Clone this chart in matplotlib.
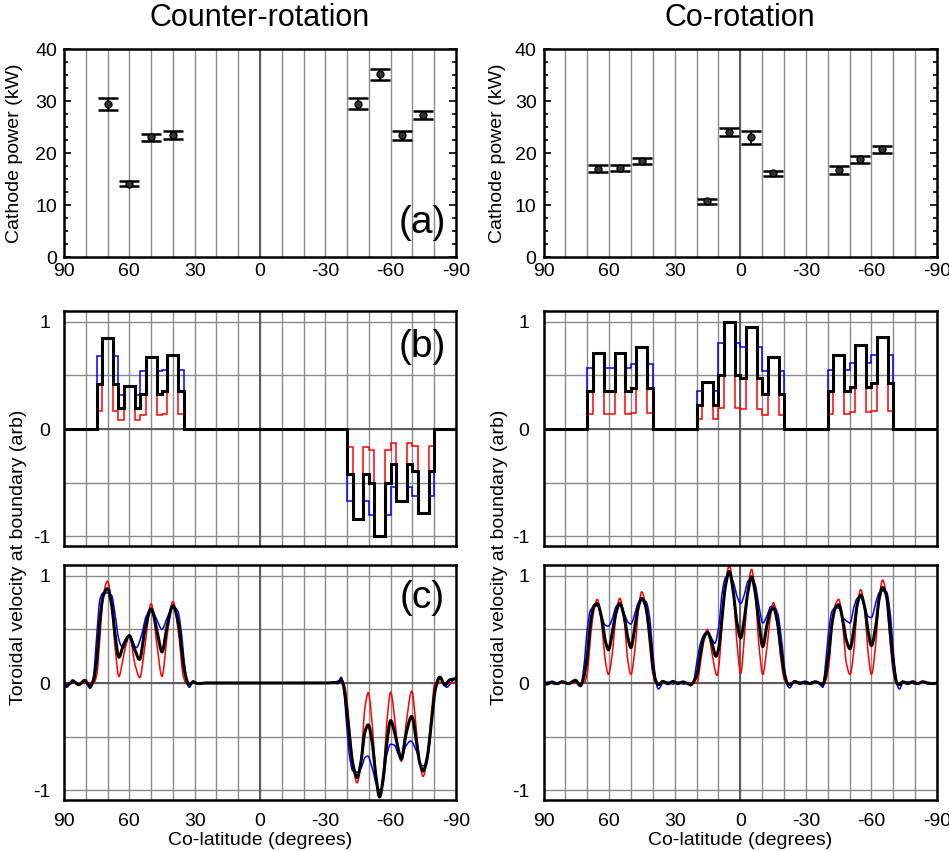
import numpy as np
import matplotlib
matplotlib.use("Agg")
import matplotlib.pyplot as plt
from matplotlib.ticker import MultipleLocator

plt.rcParams["font.family"] = ["Liberation Sans", "DejaVu Sans"]
plt.rcParams["axes.unicode_minus"] = False

# ---------------------------------------------------------------- cathode power
ctr_power_lat = [70, 60, 50, 40, -45, -55, -65, -75]
ctr_power = [29.4, 14.1, 23.0, 23.5, 29.5, 35.1, 23.4, 27.3]
ctr_power_err = [1.1, 0.45, 0.7, 0.8, 1.1, 1.0, 0.9, 0.8]

co_power_lat = [65, 55, 45, 15, 5, -5, -15, -45, -55, -65]
co_power = [17.0, 17.1, 18.4, 10.7, 24.1, 23.0, 16.1, 16.7, 18.8, 20.7]
co_power_err = [0.6, 0.55, 0.6, 0.45, 0.75, 1.2, 0.45, 0.8, 0.65, 0.7]

# ---------------------------------------------------------------- boundary steps
ctr_edges = [90, 75, 72.5, 67.5, 65, 62.5, 57.5, 55, 52.5, 47.5, 45, 42.5, 37.5, 35,
             -40, -42.5, -47.5, -50, -52.5, -57.5, -60, -62.5, -67.5, -70, -72.5, -77.5, -80, -90]
ctr_step_black = [0, 0.42, 0.85, 0.42, 0.20, 0.40, 0.20, 0.33, 0.67, 0.33, 0.35, 0.69, 0.35,
                  0, -0.42, -0.84, -0.42, -0.50, -1.00, -0.50, -0.33, -0.67, -0.33, -0.39, -0.78, -0.39, 0]
ctr_step_blue = [0, 0.68, 0.85, 0.68, 0.32, 0.40, 0.32, 0.54, 0.67, 0.54, 0.55, 0.69, 0.55,
                 0, -0.67, -0.84, -0.67, -0.80, -1.00, -0.80, -0.54, -0.67, -0.54, -0.62, -0.78, -0.62, 0]
ctr_step_red = [0, 0.17, 0.85, 0.17, 0.08, 0.40, 0.08, 0.13, 0.67, 0.13, 0.14, 0.69, 0.14,
                0, -0.17, -0.84, -0.17, -0.20, -1.00, -0.20, -0.13, -0.67, -0.13, -0.16, -0.78, -0.16, 0]

co_edges = [90, 70, 67.5, 62.5, 60, 57.5, 52.5, 50, 47.5, 42.5, 40,
            20, 17.5, 12.5, 10, 7.5, 2.5, 0, -2.5, -7.5, -10, -12.5, -17.5, -20,
            -40, -42.5, -47.5, -50, -52.5, -57.5, -60, -62.5, -67.5, -70, -90]
co_step_black = [0, 0.35, 0.71, 0.35, 0.35, 0.71, 0.35, 0.38, 0.76, 0.38,
                 0, 0.22, 0.44, 0.22, 0.50, 1.00, 0.50, 0.48, 0.95, 0.48, 0.33, 0.67, 0.33,
                 0, 0.35, 0.69, 0.35, 0.39, 0.78, 0.39, 0.43, 0.86, 0.43, 0]
co_step_blue = [0, 0.57, 0.71, 0.57, 0.57, 0.71, 0.57, 0.61, 0.76, 0.61,
                0, 0.35, 0.44, 0.35, 0.80, 1.00, 0.80, 0.76, 0.95, 0.76, 0.54, 0.67, 0.54,
                0, 0.55, 0.69, 0.55, 0.62, 0.78, 0.62, 0.69, 0.86, 0.69, 0]
co_step_red = [0, 0.14, 0.71, 0.14, 0.14, 0.71, 0.14, 0.15, 0.76, 0.15,
               0, 0.09, 0.44, 0.09, 0.20, 1.00, 0.20, 0.19, 0.95, 0.19, 0.13, 0.67, 0.13,
               0, 0.14, 0.69, 0.14, 0.16, 0.78, 0.16, 0.17, 0.86, 0.17, 0]

# ---------------------------------------------------------------- smoothed velocity
ctr_black_lat = [90, 88.5, 85.8, 83.2, 80.5, 78, 76.6, 75, 73.5, 72, 70, 68.2, 66.6, 64.8, 62.8,
                 60, 57.5, 55.3, 52.9, 50, 47.3, 45, 42.7, 40, 37.2, 35.6, 34.1, 32.6, 30.8, 28.5,
                 25, -30, -34.2, -35.7, -37.2, -38.3, -39.5, -41.1, -42.6, -44.6, -46.5, -48,
                 -49.7, -51.5, -53.1, -54.9, -56.8, -58, -60, -61.8, -63.4, -64.9, -66.9, -69.7,
                 -71.8, -73.4, -74.9, -76.8, -78.8, -80.6, -82.6, -84.9, -87.2, -90]
ctr_black_vel = [-0.03, -0.02, 0.015, -0.015, 0.025, -0.03, 0.02, 0.21, 0.59, 0.81, 0.88, 0.74,
                 0.46, 0.24, 0.35, 0.44, 0.31, 0.22, 0.49, 0.69, 0.49, 0.29, 0.525, 0.72, 0.525,
                 0.24, 0.06, -0.02, 0.01, -0.005, 0, 0, 0.005, 0.0, 0.03, -0.02, -0.19, -0.50,
                 -0.75, -0.88, -0.72, -0.47, -0.39, -0.55, -0.85, -1.06, -0.85, -0.60, -0.35,
                 -0.46, -0.61, -0.71, -0.49, -0.31, -0.54, -0.75, -0.82, -0.69, -0.35, -0.05,
                 0.055, -0.02, 0.03, 0.04]

ctr_red_lat = [90, 86, 82, 78, 76.6, 75, 73.5, 72, 70, 68.2, 66.6, 64.8, 62.8, 60, 57.5, 55.2,
               52.9, 50, 47.3, 45, 42.7, 40, 37.2, 35.3, 33.8, 30, -36, -38.3, -39.5, -41.1,
               -42.6, -44.6, -46.5, -48, -49.7, -51.5, -53.1, -54.9, -56.8, -58.3, -60, -61.8,
               -63.4, -64.9, -66.9, -69.7, -71.8, -73.4, -74.9, -76.8, -78.8, -80.3, -82.6,
               -86, -90]
ctr_red_vel = [-0.01, 0.005, -0.005, 0.005, -0.005, 0.07, 0.43, 0.81, 0.95, 0.74, 0.34, 0.06,
               0.24, 0.45, 0.18, 0.05, 0.34, 0.74, 0.35, 0.06, 0.43, 0.76, 0.43, 0.07, -0.005,
               0, 0, 0, -0.10, -0.41, -0.75, -0.93, -0.69, -0.26, -0.09, -0.38, -0.82, -1.07,
               -0.79, -0.35, -0.085, -0.32, -0.60, -0.73, -0.41, -0.075, -0.44, -0.75, -0.87,
               -0.69, -0.26, 0.0, 0.01, -0.005, 0.01]

ctr_blue_lat = [90, 88.8, 86, 83.2, 80.5, 78, 76.6, 75, 73.5, 72, 70, 68.2, 66.6, 65, 63.5,
                62.3, 60, 56.8, 54.6, 52.3, 50, 47.6, 45, 42.8, 40, 37.7, 36.2, 34.7, 33.2,
                32.4, 30.8, 28.5, 25, -30, -33, -36.5, -37.2, -38.3, -39.5, -41.1, -42.6,
                -44.6, -46.5, -48, -49.5, -51.5, -53.4, -54.9, -56.5, -58, -60, -61.8, -63.4,
                -64.9, -66.9, -69.2, -71.8, -74.2, -76.2, -77.7, -79.2, -80.8, -82.3, -84.2,
                -85.7, -88, -90]
ctr_blue_vel = [-0.03, -0.04, 0.03, -0.02, 0.03, -0.05, 0.04, 0.43, 0.78, 0.84, 0.84, 0.82,
                0.65, 0.42, 0.34, 0.33, 0.44, 0.33, 0.43, 0.62, 0.69, 0.60, 0.50, 0.60, 0.71,
                0.67, 0.49, 0.18, -0.02, -0.04, 0.02, -0.01, 0.005, 0.0, 0.005, 0.025, 0.055,
                -0.005, -0.32, -0.68, -0.82, -0.83, -0.79, -0.70, -0.68, -0.79, -0.94, -1.00,
                -0.94, -0.69, -0.57, -0.58, -0.66, -0.70, -0.59, -0.54, -0.63, -0.77, -0.77,
                -0.60, -0.26, -0.005, 0.06, 0.01, -0.04, 0.01, 0.06]

co_black_lat = [90, 88.5, 86.2, 83.8, 81.5, 78.5, 75.4, 73.1, 71.5, 70, 68.5, 66.9, 65.4, 63.5,
                61.8, 60.3, 58.5, 56.9, 55.1, 53.1, 51.5, 50, 48.2, 46.6, 45.1, 43.5, 41.5, 40,
                38.5, 37.4, 35.4, 33.1, 30.8, 28.5, 26.2, 24, 22.7, 21.2, 19.7, 18.2, 16.7, 15,
                13.2, 11.1, 9.8, 8.3, 6.8, 5, 3.3, 1.5, -0.2, -1.8, -3.5, -5.2, -6.8, -8.6,
                -10.3, -12.1, -13.8, -15.2, -16.8, -18.6, -20.2, -21.7, -22.7, -25, -27.3,
                -29.5, -32, -34.3, -36.6, -37.8, -38.9, -40.5, -42, -43.5, -45.1, -46.9, -48.5,
                -50.2, -52, -53.5, -55.1, -56.9, -58.5, -60, -62, -63.5, -65.1, -66.9, -68.6,
                -70.2, -71.7, -72.8, -74.3, -76.6, -78.9, -81.2, -83.5, -85.8, -88.2, -90]
co_black_vel = [-0.01, -0.01, 0.01, -0.006, 0.012, -0.005, 0.025, -0.025, 0.06, 0.25, 0.56,
                0.72, 0.74, 0.62, 0.40, 0.31, 0.47, 0.65, 0.74, 0.62, 0.43, 0.33, 0.53, 0.71,
                0.79, 0.73, 0.47, 0.155, 0.015, -0.015, 0.015, -0.006, 0.015, -0.005, 0.01,
                -0.006, -0.015, 0.015, 0.09, 0.28, 0.42, 0.47, 0.39, 0.25, 0.33, 0.62, 0.90,
                1.04, 0.87, 0.56, 0.42, 0.59, 0.85, 0.99, 0.85, 0.56, 0.34, 0.53, 0.67, 0.70,
                0.59, 0.31, 0.09, -0.006, -0.015, 0.015, -0.005, 0.01, -0.005, 0.012, -0.005,
                -0.015, 0.06, 0.28, 0.56, 0.70, 0.73, 0.59, 0.40, 0.32, 0.50, 0.73, 0.82, 0.71,
                0.48, 0.35, 0.53, 0.78, 0.89, 0.81, 0.47, 0.155, 0.0, -0.015, 0.012, -0.005,
                0.012, -0.005, 0.012, 0.0, -0.005, 0.0]

co_red_lat = [90, 72, 71.5, 70, 68.5, 66.9, 65.4, 63.5, 61.8, 60.3, 58.5, 56.9, 55.1, 53.1,
              51.5, 50, 48.2, 46.6, 45.1, 43.5, 41.5, 40, 38.5, 35, 21, 19.7, 18.2, 16.7, 15,
              13.2, 10.6, 9.8, 8.3, 6.8, 5, 3.3, 1.5, -0.2, -1.8, -3.5, -5.2, -6.8, -8.6,
              -10.3, -12.1, -13.8, -15.2, -16.8, -18.6, -20.2, -21.7, -38, -38.9, -40.5, -42,
              -43.5, -45.1, -46.9, -48.5, -50.2, -52, -53.5, -55.1, -56.9, -58.5, -60, -62,
              -63.5, -65.1, -66.9, -68.6, -70.2, -71.7, -90]
co_red_vel = [0, 0, 0.0, 0.09, 0.43, 0.68, 0.78, 0.56, 0.22, 0.08, 0.28, 0.62, 0.79, 0.59,
              0.22, 0.08, 0.31, 0.68, 0.85, 0.75, 0.37, 0.09, 0.0, 0, 0, 0.006, 0.19, 0.39,
              0.50, 0.31, 0.07, 0.155, 0.56, 0.93, 1.09, 0.90, 0.37, 0.09, 0.40, 0.87, 1.06,
              0.84, 0.34, 0.08, 0.31, 0.62, 0.75, 0.59, 0.22, 0.03, 0, 0, 0.015, 0.155, 0.53,
              0.73, 0.78, 0.53, 0.19, 0.08, 0.31, 0.71, 0.87, 0.68, 0.28, 0.08, 0.37, 0.78,
              0.96, 0.81, 0.37, 0.08, 0, 0]

co_blue_lat = [90, 88, 85, 82, 79, 76, 73, 71.5, 70, 68.5, 66.9, 65.4, 63.5, 61.8, 60.3, 58.5,
               56.9, 55.1, 53.1, 51.5, 50, 48.2, 46.6, 45.1, 43.1, 41.5, 40, 38.5, 37.4, 35.4,
               33, 30.8, 28.5, 26, 24, 22.7, 21.2, 19.7, 18.2, 16.7, 15, 13.2, 11.7, 9.8, 8.3,
               6.8, 5, 3.3, 1.5, -0.2, -1.8, -3.5, -5.2, -6.8, -8.6, -10.3, -12.1, -13.8,
               -15.2, -17.1, -18.9, -20.5, -21.7, -22.7, -24.2, -27, -30, -33, -36, -37.8,
               -38.9, -40.5, -42, -43.5, -45.1, -46.9, -48.5, -50.2, -52, -53.5, -55.1, -56.9,
               -58.5, -60, -62, -63.5, -65.1, -66.9, -68.6, -70.2, -71.7, -72.8, -74.3, -77,
               -80, -83, -86, -90]
co_blue_vel = [-0.01, 0.01, -0.01, 0.01, -0.01, 0.01, -0.025, 0.155, 0.50, 0.68, 0.71, 0.72,
               0.62, 0.54, 0.53, 0.60, 0.71, 0.75, 0.65, 0.57, 0.55, 0.65, 0.75, 0.78, 0.76,
               0.62, 0.28, 0.0, -0.056, 0.0, 0.01, -0.01, 0.01, -0.01, 0.005, -0.025, 0.03,
               0.22, 0.37, 0.45, 0.48, 0.42, 0.37, 0.53, 0.84, 0.98, 1.01, 0.95, 0.81, 0.74,
               0.82, 0.95, 0.98, 0.92, 0.71, 0.56, 0.62, 0.71, 0.72, 0.65, 0.40, 0.09, -0.03,
               -0.045, 0.0, 0.01, -0.01, 0.01, -0.005, -0.04, 0.155, 0.50, 0.67, 0.70, 0.70,
               0.61, 0.58, 0.56, 0.71, 0.79, 0.81, 0.71, 0.62, 0.61, 0.75, 0.84, 0.86, 0.85,
               0.65, 0.25, -0.015, -0.056, 0.0, 0.01, -0.01, 0.01, -0.01, 0.0]

BLUE = "#0000ff"
RED = "#ff0000"
GRID = "#8a8a8a"
ZERO = "#5a5a5a"


def smooth_line(lat, vel, n=16):
    """Monotone cubic (Fritsch-Carlson) curve through the read points."""
    x = np.asarray(lat, float)
    y = np.asarray(vel, float)
    h = np.diff(x)
    d = np.diff(y) / h
    m = np.empty_like(y)
    m[0], m[-1] = d[0], d[-1]
    for i in range(1, len(y) - 1):
        if d[i - 1] * d[i] <= 0:
            m[i] = 0.0
        else:
            w1 = 2 * abs(h[i]) + abs(h[i - 1])
            w2 = abs(h[i]) + 2 * abs(h[i - 1])
            m[i] = (w1 + w2) / (w1 / d[i - 1] + w2 / d[i])
    t = np.linspace(0, 1, n, endpoint=False)
    h00 = 2 * t**3 - 3 * t**2 + 1
    h10 = t**3 - 2 * t**2 + t
    h01 = -2 * t**3 + 3 * t**2
    h11 = t**3 - t**2
    xs, ys = [], []
    for i in range(len(x) - 1):
        xs.append(x[i] + t * h[i])
        ys.append(h00 * y[i] + h10 * h[i] * m[i] + h01 * y[i + 1] + h11 * h[i] * m[i + 1])
    xs.append([x[-1]])
    ys.append([y[-1]])
    return np.concatenate(xs), np.concatenate(ys)


W, H = 949, 851
fig = plt.figure(figsize=(W / 100, H / 100), dpi=100)


def axes_px(x0, y0, x1, y1):
    return fig.add_axes([x0 / W, 1 - y1 / H, (x1 - x0) / W, (y1 - y0) / H])


def base_style(ax):
    ax.set_xlim(90, -90)
    lats = np.arange(-90, 91, 10)
    ax.set_xticks(lats)
    ax.set_xticklabels([str(v) if v % 30 == 0 else "" for v in lats])
    ax.set_axisbelow(True)
    ax.grid(axis="x", color=GRID, lw=1.0)
    ax.axvline(0, color=ZERO, lw=1.4, zorder=1)
    ax.tick_params(axis="x", length=0, labelsize=14)
    ax.tick_params(axis="y", labelsize=14)
    for s in ax.spines.values():
        s.set_linewidth(1.8)


def power_panel(ax, lat, pw, err):
    base_style(ax)
    ax.errorbar(lat, pw, yerr=err, fmt="o", color="black", mfc="#333333", mec="black",
                ms=5, elinewidth=1.3, capsize=7, capthick=1.8, zorder=3)
    ax.set_ylim(0, 40)
    ax.yaxis.set_major_locator(MultipleLocator(10))
    ax.yaxis.set_minor_locator(MultipleLocator(2.5))
    ax.tick_params(axis="y", which="both", direction="in", left=True, right=True, width=1.2)
    ax.tick_params(axis="y", which="major", length=5, pad=5)
    ax.tick_params(axis="y", which="minor", length=3)
    ax.tick_params(axis="x", pad=4)


def velocity_style(ax, show_x):
    base_style(ax)
    ax.set_ylim(-1.09, 1.1)
    ax.set_yticks([-1, -0.5, 0, 0.5, 1])
    ax.set_yticklabels(["-1", "", "0", "", "1"])
    ax.grid(axis="y", color=GRID, lw=1.0)
    ax.axhline(0, color=ZERO, lw=1.4, zorder=1)
    ax.tick_params(axis="y", length=0, pad=10)
    ax.tick_params(axis="x", labelbottom=show_x, pad=9)


def step_panel(ax, edges, blue, red, black):
    velocity_style(ax, False)
    e = np.asarray(edges, float)[::-1]
    ax.stairs(np.asarray(blue)[::-1], e, color=BLUE, lw=1.1, baseline=None)
    ax.stairs(np.asarray(red)[::-1], e, color=RED, lw=1.1, baseline=None)
    ax.stairs(np.asarray(black)[::-1], e, color="black", lw=2.2, baseline=None)


def curve_panel(ax, blue, red, black):
    velocity_style(ax, True)
    ax.plot(*smooth_line(*blue), color=BLUE, lw=1.1)
    ax.plot(*smooth_line(*red), color=RED, lw=1.1)
    ax.plot(*smooth_line(*black), color="black", lw=2.2)


cols = [(64, 456), (543.5, 937)]
rows = [(49, 257), (311, 546), (565, 800)]

ax_a1 = axes_px(cols[0][0], rows[0][0], cols[0][1], rows[0][1])
ax_b1 = axes_px(cols[0][0], rows[1][0], cols[0][1], rows[1][1])
ax_c1 = axes_px(cols[0][0], rows[2][0], cols[0][1], rows[2][1])
ax_a2 = axes_px(cols[1][0], rows[0][0], cols[1][1], rows[0][1])
ax_b2 = axes_px(cols[1][0], rows[1][0], cols[1][1], rows[1][1])
ax_c2 = axes_px(cols[1][0], rows[2][0], cols[1][1], rows[2][1])

power_panel(ax_a1, ctr_power_lat, ctr_power, ctr_power_err)
power_panel(ax_a2, co_power_lat, co_power, co_power_err)

step_panel(ax_b1, ctr_edges, ctr_step_blue, ctr_step_red, ctr_step_black)
step_panel(ax_b2, co_edges, co_step_blue, co_step_red, co_step_black)

curve_panel(ax_c1, (ctr_blue_lat, ctr_blue_vel), (ctr_red_lat, ctr_red_vel),
            (ctr_black_lat, ctr_black_vel))
curve_panel(ax_c2, (co_blue_lat, co_blue_vel), (co_red_lat, co_red_vel),
            (co_black_lat, co_black_vel))

# panel tags on the left column
ax_a1.text(0.913, 0.165, "(a)", transform=ax_a1.transAxes, ha="center", va="center", fontsize=28)
ax_b1.text(0.915, 0.845, "(b)", transform=ax_b1.transAxes, ha="center", va="center", fontsize=28)
ax_c1.text(0.913, 0.86, "(c)", transform=ax_c1.transAxes, ha="center", va="center", fontsize=28)

for (x0, x1), title in zip(cols, ["Counter-rotation", "Co-rotation"]):
    xc = (x0 + x1) / 2 / W
    fig.text(xc, 1 - 18 / H, title, ha="center", va="center", fontsize=22)
    fig.text(xc, 1 - 832 / H, "Co-latitude (degrees)", ha="center", va="top", fontsize=14)

for xl in [15, 497]:
    fig.text(xl / W, 1 - 153 / H, "Cathode power (kW)", rotation=90,
             ha="center", va="center", fontsize=14)

for xl in [19, 500]:
    fig.text(xl / W, 1 - 557 / H, "Toroidal velocity at boundary (arb)", rotation=90,
             ha="center", va="center", fontsize=14)

fig.savefig("out.png", dpi=100)
